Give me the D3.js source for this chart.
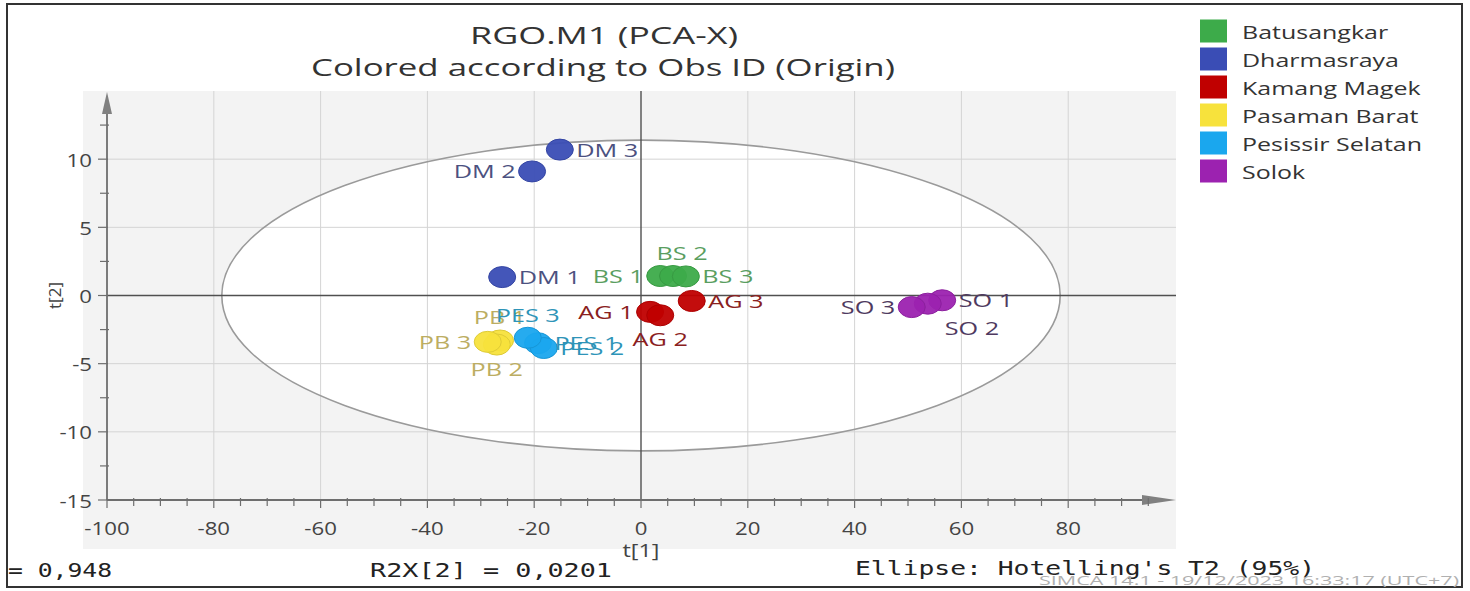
<!DOCTYPE html>
<html>
<head>
<meta charset="utf-8">
<script src="https://cdn.jsdelivr.net/npm/d3@7"></script>
<style>
  html, body { margin: 0; padding: 0; background: #ffffff; }
  svg { display: block; }
</style>
</head>
<body>
<svg id="chart" width="1470" height="591"></svg>
<script>
// ---------- data ----------
const groups = ["Batusangkar", "Dharmasraya", "Kamang Magek", "Pasaman Barat", "Pesissir Selatan", "Solok"];
const obsIds = ["BS 1","BS 2","BS 3","DM 1","DM 2","DM 3","AG 1","AG 2","AG 3","PB 1","PB 2","PB 3","PES 1","PES 2","PES 3","SO 1","SO 2","SO 3"];
const obsGroup = [0,0,0,1,1,1,2,2,2,3,3,3,4,4,4,5,5,5];
const t1 = [3.6, 6.0, 8.4, -26.0, -20.4, -15.2, 1.7, 3.6, 9.5, -26.4, -27.0, -28.7, -19.3, -18.2, -21.2, 56.4, 53.7, 50.7];
const t2 = [1.43, 1.43, 1.40, 1.35, 9.1, 10.7, -1.2, -1.45, -0.4, -3.3, -3.6, -3.4, -3.5, -3.85, -3.1, -0.35, -0.6, -0.85];
const xTicks = [-100, -80, -60, -40, -20, 0, 20, 40, 60, 80];
const yTicks = [-15, -10, -5, 0, 5, 10];
const ellipseSemiAxes = [78.5, 11.4]; // Hotelling's T2 (95%)
const titleLines = ["RGO.M1 (PCA-X)", "Colored according to Obs ID (Origin)"];
const footerTexts = ["= 0,948", "R2X[2] = 0,0201", "Ellipse: Hotelling's T2 (95%)"];
const stampText = "SIMCA 14.1 - 19/12/2023 16:33:17 (UTC+7)";

// ---------- styles / placement (not data) ----------
const groupFill = ["#3dab4a", "#3a4db5", "#c00000", "#f7e23c", "#1aa7ee", "#9c22b0"];
const groupText = ["#5a9e5f", "#4c5180", "#8a2020", "#bcad62", "#2e94b8", "#4f3a60"];
const labelSide = ["l","tc","r","r","l","r","l","b","r","t","b","l","r","r","t","r","br","l"];

const svg = d3.select("#chart");
const FONT = "'Open Sans', 'Noto Sans', sans-serif";
const MONO = "'DejaVu Sans Mono', 'Liberation Mono', monospace";

// horizontally stretch a text element (reference image is horizontally stretched)
function stretch(sel, f) {
  sel.each(function () {
    const L = this.getComputedTextLength();
    d3.select(this).attr("textLength", L * f).attr("lengthAdjust", "spacingAndGlyphs");
  });
  return sel;
}

// outer frame
svg.append("rect").attr("x", 7).attr("y", 4).attr("width", 1455).attr("height", 583)
  .attr("fill", "#ffffff").attr("stroke", "#333").attr("stroke-width", 2);

const x = d3.scaleLinear().domain([-100, 100]).range([107, 1175]);
const y = d3.scaleLinear().domain([-15, 15]).range([500, 91]);

// plot panel (grey outside ellipse)
svg.append("rect").attr("x", 83).attr("y", 91).attr("width", 1093).attr("height", 458)
  .attr("fill", "#f3f3f3");

// ellipse interior white
const ex = x(0), ey = y(0);
const erx = x(ellipseSemiAxes[0]) - x(0), ery = y(0) - y(ellipseSemiAxes[1]);
svg.append("ellipse").attr("cx", ex).attr("cy", ey).attr("rx", erx).attr("ry", ery)
  .attr("fill", "#ffffff");

// gridlines
const g = svg.append("g");
xTicks.filter(v => v !== -100 && v !== 0).forEach(v => {
  g.append("line").attr("x1", x(v)).attr("x2", x(v)).attr("y1", 91).attr("y2", y(-15))
    .attr("stroke", "#d4d4d4").attr("stroke-width", 1);
});
yTicks.filter(v => v !== -15 && v !== 0).forEach(v => {
  g.append("line").attr("x1", x(-100)).attr("x2", 1176).attr("y1", y(v)).attr("y2", y(v))
    .attr("stroke", "#d4d4d4").attr("stroke-width", 1);
});

// ellipse outline
svg.append("ellipse").attr("cx", ex).attr("cy", ey).attr("rx", erx).attr("ry", ery)
  .attr("fill", "none").attr("stroke", "#9a9a9a").attr("stroke-width", 1.6);

// zero lines
svg.append("line").attr("x1", x(0)).attr("x2", x(0)).attr("y1", 91).attr("y2", y(-15))
  .attr("stroke", "#505050").attr("stroke-width", 1.4);
svg.append("line").attr("x1", x(-100)).attr("x2", 1176).attr("y1", y(0)).attr("y2", y(0))
  .attr("stroke", "#505050").attr("stroke-width", 1.4);

// axes
const axisCol = "#6e6e6e";
svg.append("line").attr("x1", x(-100)).attr("x2", 1160).attr("y1", y(-15)).attr("y2", y(-15))
  .attr("stroke", axisCol).attr("stroke-width", 1.8);
svg.append("line").attr("x1", x(-100)).attr("x2", x(-100)).attr("y1", y(-15)).attr("y2", 105)
  .attr("stroke", axisCol).attr("stroke-width", 1.8);
// arrow heads
svg.append("path").attr("d", `M1176,${y(-15)} L1142,${y(-15) - 5} L1142,${y(-15) + 5} Z`).attr("fill", "#808080");
svg.append("path").attr("d", `M${x(-100)},92 L${x(-100) - 5},114 L${x(-100) + 5},114 Z`).attr("fill", "#808080");

// ticks (major + minor)
d3.range(-100, 96, 5).forEach(v => {
  const major = xTicks.includes(v);
  svg.append("line").attr("x1", x(v)).attr("x2", x(v))
    .attr("y1", y(-15) - (major ? 1 : 2)).attr("y2", y(-15) + (major ? 8 : 6))
    .attr("stroke", axisCol).attr("stroke-width", 1.2);
});
d3.range(-15, 13.8, 2.5).forEach(v => {
  const major = yTicks.includes(v);
  svg.append("line").attr("x1", x(-100) - (major ? 9 : 7)).attr("x2", x(-100) + (major ? 1 : 2))
    .attr("y1", y(v)).attr("y2", y(v))
    .attr("stroke", axisCol).attr("stroke-width", 1.2);
});

// tick labels
stretch(svg.append("g").selectAll("text").data(xTicks).join("text")
  .attr("x", d => x(d)).attr("y", 527).attr("text-anchor", "middle").attr("dominant-baseline", "central")
  .attr("font-family", FONT).attr("font-size", 18.5).attr("fill", "#444").text(d => d), 1.2);
stretch(svg.append("g").selectAll("text").data(yTicks).join("text")
  .attr("x", 92).attr("y", d => y(d)).attr("text-anchor", "end").attr("dominant-baseline", "central")
  .attr("font-family", FONT).attr("font-size", 18.5).attr("fill", "#444").text(d => d), 1.2);

// axis titles
stretch(svg.append("text").attr("x", x(0)).attr("y", 550).attr("text-anchor", "middle").attr("dominant-baseline", "central")
  .attr("font-family", FONT).attr("font-size", 18).attr("fill", "#444").text("t[1]"), 1.3);
svg.append("text").attr("transform", `translate(54,${y(0)}) rotate(-90)`).attr("text-anchor", "middle")
  .attr("dominant-baseline", "central")
  .attr("font-family", FONT).attr("font-size", 17).attr("fill", "#444").text("t[2]");

// titles
svg.append("text").attr("x", 604).attr("y", 35).attr("text-anchor", "middle").attr("dominant-baseline", "central")
  .attr("font-family", FONT).attr("font-size", 23).attr("fill", "#333")
  .attr("textLength", 268).attr("lengthAdjust", "spacingAndGlyphs").text(titleLines[0]);
svg.append("text").attr("x", 603).attr("y", 67).attr("text-anchor", "middle").attr("dominant-baseline", "central")
  .attr("font-family", FONT).attr("font-size", 23).attr("fill", "#333")
  .attr("textLength", 584).attr("lengthAdjust", "spacingAndGlyphs").text(titleLines[1]);

// points (stretched horizontally like the reference)
const idx = d3.range(obsIds.length);
const RX = 13.5, RY = 10.5;
svg.append("g").selectAll("ellipse").data(idx).join("ellipse")
  .attr("cx", i => x(t1[i])).attr("cy", i => y(t2[i])).attr("rx", RX).attr("ry", RY)
  .attr("fill", i => groupFill[obsGroup[i]])
  .attr("stroke", i => d3.color(groupFill[obsGroup[i]]).darker(0.3)).attr("stroke-width", 1)
  .attr("fill-opacity", 0.95);

// point labels
const lab = svg.append("g");
idx.forEach(i => {
  const px = x(t1[i]), py = y(t2[i]);
  const side = labelSide[i];
  let tx = px, ty = py, anchor = "middle";
  if (side === "r") { tx = px + RX + 3; anchor = "start"; }
  else if (side === "l") { tx = px - RX - 3; anchor = "end"; }
  else if (side === "t") { ty = py - 23; }
  else if (side === "tc") { tx = px + 9; ty = py - 23; }
  else if (side === "b") { ty = py + 24; }
  else if (side === "br") { tx = px + 17; ty = py + 24; anchor = "start"; }
  stretch(lab.append("text").attr("x", tx).attr("y", ty).attr("text-anchor", anchor)
    .attr("dominant-baseline", "central")
    .attr("font-family", FONT).attr("font-size", 18).attr("fill", groupText[obsGroup[i]])
    .text(obsIds[i]), 1.4);
});

// legend
const leg = svg.append("g");
groups.forEach((gname, k) => {
  const cy = 31 + k * 28;
  leg.append("rect").attr("x", 1200).attr("y", cy - 11.5).attr("width", 27).attr("height", 23)
    .attr("fill", groupFill[k]);
  stretch(leg.append("text").attr("x", 1242).attr("y", cy).attr("dominant-baseline", "central")
    .attr("font-family", FONT).attr("font-size", 18.5).attr("fill", "#333").text(gname), 1.35);
});

// footer
svg.append("text").attr("x", 8).attr("y", 570).attr("dominant-baseline", "central")
  .attr("font-family", MONO).attr("font-size", 19).attr("fill", "#222")
  .attr("textLength", 104).attr("lengthAdjust", "spacingAndGlyphs").text(footerTexts[0]);
svg.append("text").attr("x", 370).attr("y", 570).attr("dominant-baseline", "central")
  .attr("font-family", MONO).attr("font-size", 19).attr("fill", "#222")
  .attr("textLength", 242).attr("lengthAdjust", "spacingAndGlyphs").text(footerTexts[1]);
svg.append("text").attr("x", 855).attr("y", 568).attr("dominant-baseline", "central")
  .attr("font-family", MONO).attr("font-size", 19).attr("fill", "#222")
  .attr("textLength", 460).attr("lengthAdjust", "spacingAndGlyphs").text(footerTexts[2]);
svg.append("text").attr("x", 1459).attr("y", 580).attr("text-anchor", "end").attr("dominant-baseline", "central")
  .attr("font-family", FONT).attr("font-size", 13).attr("fill", "#b0b0b0")
  .attr("textLength", 420).attr("lengthAdjust", "spacingAndGlyphs").text(stampText);
</script>
</body>
</html>
